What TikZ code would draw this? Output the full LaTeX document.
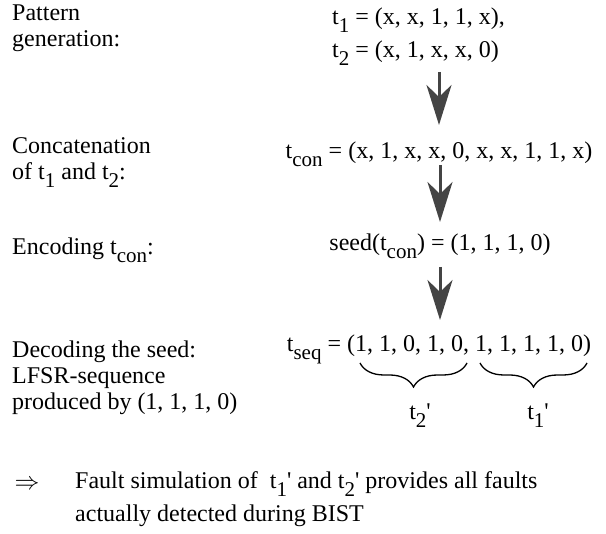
\documentclass[tikz,border=0pt]{standalone}
\usepackage{fontspec}
\setmainfont{Liberation Serif}
\usetikzlibrary{arrows.meta,decorations.pathreplacing,calc}
\newcommand{\sbs}[1]{\raisebox{-0.3em}{\fontsize{21}{21}\selectfont #1}}
\newcommand{\prm}{\textquotesingle}
\definecolor{arrgray}{HTML}{444444}
\begin{document}
\begin{tikzpicture}[x=1pt,y=1pt,
  txt/.style={inner sep=0pt, font=\fontsize{24}{26}\selectfont},
  lbl/.style={txt, anchor=base west, align=left},
  arr/.style={draw=arrgray, line width=3pt, -{Stealth[length=40pt,width=25pt,inset=12pt]}},
  brc/.style={decorate, decoration={brace, mirror, amplitude=24pt, aspect=0.5}, line width=1.3pt}
]
\useasboundingbox (0,0) rectangle (606,-534);
% left labels (base = last line)
\node[lbl] (gen) at (12,-47) {Pattern\\generation:};
\node[lbl] (conc) at (12,-180) {Concatenation\\of t\sbs{1} and t\sbs{2}:};
\node[lbl] (enc) at (12,-255) {Encoding t\sbs{con}:};
\node[lbl] (dec) at (12,-410) {Decoding the seed:\\LFSR-sequence\\produced by (1, 1, 1, 0)};
% right side
\node[txt, anchor=base west] (t1) at (332,-25) {t\sbs{1} = (x, x, 1, 1, x),};
\node[txt, anchor=base west] (t2) at (332,-58) {t\sbs{2} = (x, 1, x, x, 0)};
\node[txt, anchor=base] (tcon) at (439,-159) {t\sbs{con} = (x, 1, x, x, 0, x, x, 1, 1, x)};
\node[txt, anchor=base] (seed) at (440,-251) {seed(t\sbs{con}) = (1, 1, 1, 0)};
\node[txt, anchor=base] (tseq) at (439,-352) {t\sbs{seq} = (1, 1, 0, 1, 0, 1, 1, 1, 1, 0)};
\node[txt, anchor=base] (tp2) at (420,-420) {t\sbs{2}\prm};
\node[txt, anchor=base] (tp1) at (538,-420) {t\sbs{1}\prm};
% arrows
\draw[arr] ($(tcon.base |- t2.base)+(0,-14)$) -- ($(tcon.base)+(0,34)$);
\draw[arr] ($(seed.base |- tcon.base)+(0,-6)$) -- ($(seed.base)+(0,29)$);
\draw[arr] ($(seed.base)+(0,-16)$) -- ($(seed.base |- tseq.base)+(0,32)$);
% braces
\coordinate (b1s) at (360,-363);
\coordinate (b1e) at (467,-363);
\coordinate (b2s) at (480,-363);
\coordinate (b2e) at (587,-363);
\draw[brc] (b1s) -- (b1e);
\draw[brc] (b2s) -- (b2e);
% conclusion
\node[txt] (impl) at (27,-485) {$\Rightarrow$};
\node[txt, anchor=base west, align=left, font=\fontsize{24}{33}\selectfont] (fault) at (75,-522)
  {Fault simulation of \ t\sbs{1}\prm{} and t\sbs{2}\prm{} provides all faults\\actually detected during BIST};
\end{tikzpicture}
\end{document}
